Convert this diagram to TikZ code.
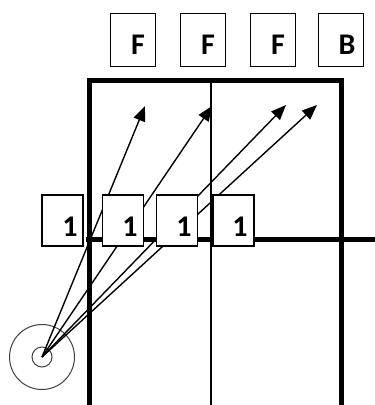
\documentclass[tikz,border=0pt]{standalone}
\usepackage{fontspec}
\setmainfont{Carlito}
\usetikzlibrary{arrows.meta}
\begin{document}
\begin{tikzpicture}[x=1pt,y=-1pt,
  lbox/.style={draw=black,line width=1.3pt,fill=white,inner sep=0pt,minimum width=45pt,minimum height=53pt},
  sbox/.style={draw=black,line width=1.3pt,fill=white,inner sep=0pt,minimum width=41pt,minimum height=51pt},
  lbl/.style={font=\fontsize{30}{32}\selectfont\bfseries,inner sep=0pt},
  thick wall/.style={line width=5pt},
  thin wall/.style={line width=1.4pt},
  ray/.style={line width=1.4pt,-{Triangle[length=15pt,width=12pt]}}]
\useasboundingbox (0,0) rectangle (375,405);
% walls
\draw[thick wall] (89,407) -- (89,80) -- (341,80) -- (341,407);
\draw[thin wall] (211,80) -- (211,407);
\draw[thick wall] (86,239) -- (377,239);
% source
\coordinate (src) at (42,357);
\draw[black!75,line width=1pt] (src) circle (32.5);
\draw[black!75,line width=1pt] (src) circle (10);
% arrow tips
\coordinate (t1) at (145,106);
\coordinate (t2) at (212,106);
\coordinate (t3) at (286,105);
\coordinate (t4) at (317,105);
\draw[ray] (src) -- (t1);
\draw[ray] (src) -- (t2);
\draw[ray] (src) -- (t3);
\draw[ray] (src) -- (t4);
% top boxes
\node[lbox] (f1) at (133,40) {};
\node[lbox] (f2) at (203,40) {};
\node[lbox] (f3) at (273,40) {};
\node[lbox] (b1) at (341,40) {};
\node[lbl] (tf1) at (138,45) {F};
\node[lbl] (tf2) at (208,45) {F};
\node[lbl] (tf3) at (278,45) {F};
\node[lbl] (tb1) at (347,45) {B};
% one boxes
\node[sbox] (o1) at (62.5,220.5) {};
\node[sbox] (o2) at (123,220.5) {};
\node[sbox] (o3) at (177,220.5) {};
\node[sbox] (o4) at (233.5,220.5) {};
\node[lbl] (to1) at (70,227) {1};
\node[lbl] (to2) at (130,227) {1};
\node[lbl] (to3) at (184,227) {1};
\node[lbl] (to4) at (240,227) {1};
\end{tikzpicture}
\end{document}
